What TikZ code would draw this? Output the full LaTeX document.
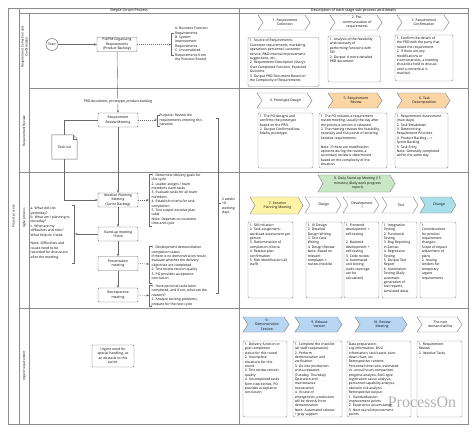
\documentclass[tikz,border=0pt]{standalone}
\usepackage{fontspec}
\setmainfont{Open Sans}
\newfontfamily\wmfont{Liberation Serif}
\usetikzlibrary{arrows.meta,calc}
\definecolor{lanec}{HTML}{8C8C8C}
\definecolor{linec}{HTML}{6A6A6A}
\definecolor{orangec}{HTML}{FAD6A5}
\definecolor{greenc}{HTML}{C9E7C6}
\definecolor{yellowc}{HTML}{FFF3A6}
\definecolor{cyanc}{HTML}{A9DFEA}
\definecolor{bluec}{HTML}{B7D6F4}
\newcommand\fsz{\fontsize{3.4}{4.4}\selectfont}
\newcommand\fhd{\fontsize{3.7}{4.5}\selectfont}
\newcommand\flane{\fontsize{3.2}{4.0}\selectfont}
\tikzset{
 frame/.style={draw=lanec, line width=0.45pt},
 procbox/.style={draw=linec, line width=0.45pt, fill=white, rounded corners=0.8pt, minimum width=40pt, minimum height=14pt, align=center, font=\fsz, inner sep=0.5pt},
 conn/.style={draw=linec, line width=0.4pt, -{Stealth[length=2.6pt,width=2.2pt]}},
 dconn/.style={conn, dash pattern=on 1pt off 1pt},
 plain/.style={draw=linec, line width=0.4pt},
 brk/.style={draw=linec, line width=0.4pt},
 txt/.style={font=\fsz, align=left, inner sep=0pt, anchor=north west},
 descbox/.style={draw=lanec, line width=0.45pt, rounded corners=1.2pt, inner sep=0pt, outer sep=0pt, fill=white},
 chevst/.style={draw=lanec, line width=0.45pt},
 chevtxt/.style={font=\fsz, align=center, inner sep=0pt},
 lanelbl/.style={font=\flane, rotate=90, align=center, inner sep=0pt},
}
% chevron: name, x1, y1, x2, y2, fill, text
\newcommand\mychev[7]{%
 \draw[chevst, fill=#6] (#2,#3) -- ({#4-5},#3) -- (#4,{(#3+#5)/2}) -- ({#4-5},#5) -- (#2,#5) -- ({#2+5},{(#3+#5)/2}) -- cycle;
 \node[chevtxt] (#1) at ({(#2+#4)/2+1},{(#3+#5)/2}) {#7};}
% description box: name, x1, y1, x2, y2, text
\newcommand\mydbox[6]{%
 \node[descbox, minimum width={#4-#2}, minimum height={#5-#3}, anchor=north west] (#1) at (#2,#3) {};
 \node[txt] (#1t) at ([xshift=1.6pt,yshift=-1.6pt]#1.north west) {#6};}
\newcommand\lbrk[3]{\draw[brk] ({#1+2},#2) -- (#1,#2) -- (#1,#3) -- ({#1+2},#3);}
\newcommand\rbrk[3]{\draw[brk] ({#1-2},#2) -- (#1,#2) -- (#1,#3) -- ({#1-2},#3);}
\begin{document}
\begin{tikzpicture}[x=1pt,y=-1pt]
\useasboundingbox[fill=white] (0,0) rectangle (474,432);
% ---------- frame ----------
\draw[frame] (8,8) rectangle (468,424);
\draw[frame] (19.5,8) -- (19.5,424);
\draw[frame] (29,13) -- (29,424);
\draw[frame] (19.5,13) -- (468,13);
\draw[frame] (239,8) -- (239,424);
\draw[frame] (29,88) -- (468,88);
\draw[frame] (19.5,172) -- (468,172);
\draw[frame] (19.5,308) -- (468,308);
\node[font=\fhd, inner sep=0pt] (h1) at (129,10.6) {Simple Scrum Process};
\node[font=\fhd, inner sep=0pt] (h2) at (353.5,10.6) {Description of each stage sub-process and details};
\node[lanelbl] (l0) at (13.8,216) {Project process};
\node[lanelbl] (l1) at (24.3,47) {Requirement Collection and\\Confirmation};
\node[lanelbl] (l2) at (24.3,131) {Requirement Review};
\node[lanelbl] (l3) at (24.3,218) {Agile process};
\node[lanelbl] (l4) at (24.3,366) {Urgent requirement};
% ---------- left column ----------
\node[draw=linec, line width=0.45pt, circle, minimum size=12pt, inner sep=0pt, font=\fsz] (start) at (52,44.5) {Start};
\node[procbox] (popm) at (117,44.5) {PO/PM Organizing\\Requirements\\(Product Backlog)};
\coordinate (br1) at (171,44.5);
\lbrk{171.5}{33}{55}
\node[txt] (br1t) at (175,27) {A. Business Function\\Requirements\\B. System\\Improvement\\Requirements\\C. Uncompleted\\Requirements from\\the Previous Round};
\node[procbox] (rrm) at (118,120) {Requirement\\Review Meeting};
\node[procbox] (ipm) at (118,200) {Iteration Planning\\Meeting\\(Sprint Backlog)};
\node[procbox] (stand) at (118,234) {Stand-up meeting\\15min};
\node[procbox] (pres) at (118,263.5) {Presentation\\meeting};
\node[procbox] (retro) at (118,295) {Retrospective\\meeting};
\node[minimum width=25pt, minimum height=24pt, inner sep=0pt, font=\fsz] (task) at (64.5,147) {};
\draw[draw=linec, line width=0.45pt, fill=white] (task.north west) -- ([xshift=-4pt]task.north east) -- ([yshift=-4pt]task.north east) -- (task.south east) -- (task.south west) -- cycle;
\draw[draw=linec, line width=0.4pt] ([xshift=-4pt]task.north east) -- ([xshift=-4pt,yshift=-4pt]task.north east) -- ([yshift=-4pt]task.north east);
\node[font=\fsz] (tasktxt) at (task.center) {Task List};
\draw[conn] (start) -- (popm);
\draw[dconn] (popm.east) -- (br1);
\draw[conn] (popm) -- (rrm);
\node[font=\fsz, fill=white, inner sep=0.6pt] (prd) at (118,101.5) {PRD document, prototype, product backlog};
\coordinate (br2) at (157,120);
\draw[dconn] (rrm.east) -- (br2);
\lbrk{157.5}{115}{126}
\node[txt] (br2t) at (159.5,114.2) {Purpose: Review the\\requirements entering this\\iteration};
\draw[plain] (rrm.west) -| (task.north);
\draw[conn] (task.south) |- (ipm.west);
\draw[conn] (rrm) -- (ipm);
\draw[conn] (ipm) -- (stand);
\draw[conn] (stand) -- (pres);
\draw[conn] (pres) -- (retro);
\coordinate (br3) at (149,200);
\draw[dconn] (ipm.east) -- (br3);
\lbrk{149.5}{174}{226}
\node[txt] (br3t) at (151.5,173.5) {1. Determine delivery goals for\\this cycle\\2. Leader assigns / team\\members claim tasks\\3. Evaluate tasks for all team\\members\\4. Establish criteria for task\\completion\\5. Test output iterative plan\\table\\Note: Depends on customer\\time and cycle};
\coordinate (br4) at (75,234);
\draw[conn] (stand.west) -- (br4);
\rbrk{74}{205}{263}
\node[txt] (br4t) at (30.5,207) {a. What did I do\\yesterday?\\b. What am I planning to\\do today?\\c. What are my\\difficulties and risks?\\What help do I need.\\[4.4pt]Note: Difficulties and\\issues need to be\\recorded for discussion\\after the meeting.};
\coordinate (br5) at (149,264);
\draw[dconn] (pres.east) -- (br5);
\lbrk{149.5}{246}{283}
\node[txt] (br5t) at (151.5,246) {1. Development demonstration\\completion status\\If there is no demonstration result,\\evaluate whether the delivery\\objectives are completed\\2. Test review version quality\\3. PO provides acceptance\\conclusion};
\coordinate (br6) at (149,295.5);
\draw[dconn] (retro.east) -- (br6);
\lbrk{149.5}{285}{306.5}
\node[txt] (br6t) at (151.5,284.8) {1. Have personal tasks been\\completed, and if not, what are the\\reasons?\\2. Analyze existing problems,\\prepare for the next cycle};
% two weeks bracket
\draw[brk] (216,118) -- (218,118) -- (218,293) -- (216,293);
\coordinate (tw) at (221,203);
\draw[brk] (218,203) -- (tw);
\node[txt] (twt) at (222,197.5) {2 weeks\\10\\working\\days};
\node[procbox, minimum width=42pt, minimum height=22pt] (urgent) at (113,356) {Urgent need for\\special handling, as\\an obstacle to this\\sprint.};
% ---------- right column: lane 1 ----------
\mychev{c1}{258}{15}{310}{30}{white}{1. Requirement\\Collection}
\mychev{c2}{330}{15}{382}{30}{white}{2. Pre-\\communication of\\requirements}
\mychev{c3}{397}{15}{449}{30}{white}{3. Requirement\\Confirmation}
\mydbox{b1}{248}{37.5}{319}{86.5}{1. Source of Requirements:\\Customer requirements, marketing\\operations personnel, customer\\service, R\&D internal improvement\\suggestions, etc.\\2. Requirement Description (Story):\\User Completed Function, Expected\\Outcome\\3. Output PRD Document Based on\\the Complexity of Requirements}
\mydbox{b2}{328}{36}{380.5}{82}{1. Analysis of the feasibility\\and necessity of\\performing functions with\\SM\\2. Output: A more detailed\\PRD document}
\mydbox{b3}{395}{35}{453}{81}{1. Confirm the details of\\the PRD with the party that\\raised the requirement.\\2. If there are any\\modifications or\\inconsistencies, a meeting\\should be held to discuss\\until a consensus is\\reached.}
% ---------- lane 2 ----------
\mychev{c4}{257}{93}{312}{108}{white}{4. Prototype Design}
\mychev{c5}{328}{93}{382}{108}{orangec}{5. Requirement\\Review}
\mychev{c6}{397}{93}{450}{108}{orangec}{6. Task\\Decomposition}
\mydbox{b4}{258}{113}{313}{168}{1. The PO designs and\\confirms the prototype\\based on the PRD.\\2. Output Confirmed low-\\fidelity prototype.}
\mydbox{b5}{319}{113}{387}{168}{1. The PO initiates a requirement\\review meeting, usually the day after\\the previous version is released.\\2. The meeting reviews the feasibility,\\necessity and risk points of entering\\iterative requirements.\\[4.4pt]Note: If there are modification\\opinions during the review, a\\secondary review is determined\\based on the complexity of the\\situation.}
\mydbox{b6}{395}{113}{448}{168}{1. Requirement Assessment\\(man-days)\\2. Task Breakdown\\3. Determining\\Requirement Priorities\\4. Product Backlog -{}-{}->\\Sprint Backlog\\5. Task Entry\\Note: Generally completed\\within the same day}
% ---------- lane 3 ----------
\mychev{c8}{318}{175}{395}{192}{greenc}{8. Daily Stand-up Meeting (15\\minutes) (Daily work progress\\report)}
\mychev{c7}{250}{197}{303}{214}{yellowc}{7. Iteration\\Planning Meeting}
\mychev{cd}{305}{197}{341}{213}{white}{Design}
\mychev{cv}{343}{197}{379}{213}{white}{Development\\1}
\mychev{ct}{382}{197}{418}{213}{white}{Test}
\mychev{cc}{420}{197}{456}{213}{cyanc}{Change}
\mydbox{b7}{248}{222}{293}{298}{1. SM initiation\\2. Task assignment:\\workload assessment per\\person\\3. Determination of\\completion criteria\\4. Release plan\\confirmation\\5. Risk identification (all\\staff)}
\mydbox{bd}{306}{222}{342}{298}{1. UI Design\\2. Detailed\\Design Writing\\3. Test Case\\Writing\\4. Design Review\\Note: Based on\\relevant\\templates +\\review checklist}
\mydbox{bv}{344}{222}{379}{298}{1. Frontend\\development +\\self-testing\\[4.4pt]2. Backend\\development +\\self-testing\\3. Code review\\4. Automated\\unit testing\\(code coverage\\can be\\calculated)}
\mydbox{bt}{382}{222}{417}{298}{1. Integration\\Testing\\2. Functional\\Testing\\3. Bug Reporting\\in Zentao\\4. Regression\\Testing\\5. Output Test\\Report\\6. Automation\\Testing (Daily\\automatic\\generation of\\test reports,\\simulated data)}
\mydbox{bc}{420}{222}{456}{298}{1.\\Considerations\\for product\\requirement\\changes:\\Scope of impact\\adjustment of\\plans\\2. Issuing\\tenders for\\temporary\\urgent\\requirements}
% ---------- lane 4 ----------
\mychev{c9}{243}{317}{289}{332}{bluec}{9.\\Demonstration\\Session}
\mychev{c9b}{295}{317}{342}{332}{bluec}{9. Release\\Version}
\mychev{c10}{355}{317}{407}{332}{bluec}{10. Review\\Meeting}
\mychev{cn}{417}{317}{462}{332}{white}{The next\\demand will be}
\mydbox{b9}{243}{341}{287}{417}{1. Delivery function or\\goal completion\\status for this round\\2. Incomplete\\situations for this\\round\\3. Test review version\\quality\\4. Uncompleted tasks\\form new stories, PO\\provides acceptance\\conclusion}
\mydbox{b9b}{293}{341}{342}{417}{1. Complete the checklist\\(all staff cooperation)\\2. Perform\\demonstration and\\verification\\3. Go into production\\and acceptance\\(Tuesday, Thursday)\\Operation and\\maintenance\\cooperation\\4. In case of\\emergencies, production\\will be directly from\\demonstration\\Note: Automated release\\+ gray support}
\mydbox{b10}{347}{341}{411}{417}{Data preparation:\\Log information, BUG\\information, task board, burn-\\down chart, etc.\\Retrospective content:\\Personnel time ratio, estimated\\vs. actual hours comparison,\\progress analysis, BUG type\\registration cause analysis,\\personnel capability analysis,\\obstacle risk analysis\\Retrospective output:\\1. Standardization\\improvement points\\2. Experience accumulation\\3. Next round improvement\\points}
\mydbox{bn}{417}{341}{462}{417}{1. Requirement\\Review\\2. Iterative Tasks\\...}
\node[font=\wmfont\fontsize{16}{16}\selectfont, text=black, opacity=0.3, inner sep=0pt] (wm) at (422,402) {ProcessOn};
\end{tikzpicture}
\end{document}
